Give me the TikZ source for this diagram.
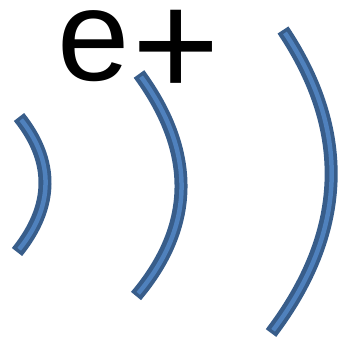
\documentclass[tikz,border=0pt]{standalone}
\usepackage{fontspec}
\setmainfont{Liberation Sans}
\begin{document}
\begin{tikzpicture}[x=1pt,y=-1pt,
  waveout/.style={draw=wavedark,line width=13pt,line cap=butt},
  wavein/.style={draw=wavelight,line width=4.5pt,line cap=butt,shorten <=3.5pt,shorten >=3.5pt}]
\definecolor{wavedark}{HTML}{385D8A}
\definecolor{wavelight}{HTML}{4F81BD}
\useasboundingbox (0,0) rectangle (343,345);
\node[anchor=base west,inner sep=0pt,font=\fontsize{130}{130}\selectfont] (lbl) at (57,81) {e\kern3pt\raisebox{-16pt}{\scalebox{1.15}{+}}};
\foreach \a/\b/\c/\d in {{(19,117)}/{(54.3,161.3)}/{(53.7,206.3)}/{(17,252)},{(139,74)}/{(196,152)}/{(195,226)}/{(136,296)},{(283,30)}/{(351,131.7)}/{(347,232.7)}/{(271,333)}}{
  \draw[waveout] \a .. controls \b and \c .. \d;
  \draw[wavein] \a .. controls \b and \c .. \d;
}
\end{tikzpicture}
\end{document}
